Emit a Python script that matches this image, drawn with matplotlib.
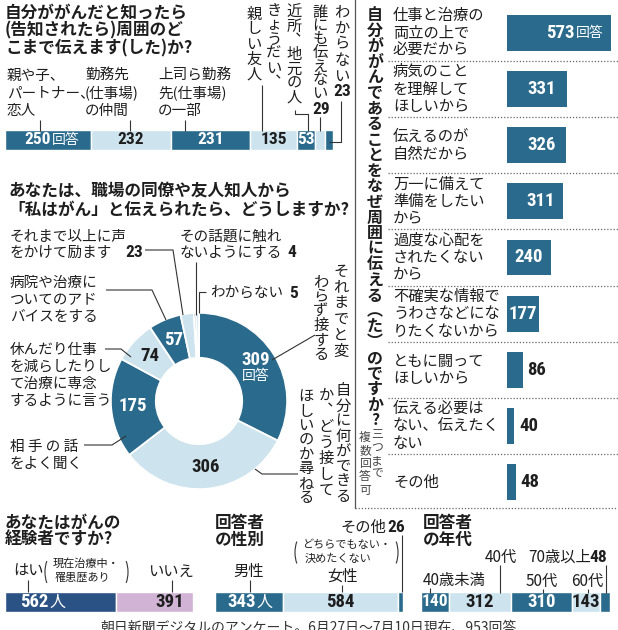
"""Recreate the Asahi cancer-disclosure survey infographic."""

import matplotlib

matplotlib.use("Agg")
import matplotlib.pyplot as plt
import matplotlib.transforms as mtransforms
from matplotlib.patches import Arc
import numpy as np

W, H = 618, 630
JP = ["Noto Sans CJK JP", "DejaVu Sans"]
NUM = ["Roboto Condensed", "Roboto", "DejaVu Sans"]
plt.rcParams["font.family"] = JP

DARK = "#2a6a8c"
LIGHT = "#cde3ee"
NAVY = "#2b5284"
LAVENDER = "#d0b3d5"
INK = "#1e1e1e"
LINE = "#333333"

TOTAL = 953

# --- data -------------------------------------------------------------
reach_labels = [
    "親や子、\nパートナー、\n恋人",
    "勤務先\n(仕事場)\nの仲間",
    "上司ら勤務\n先(仕事場)\nの一部",
    "きょうだい、\n親しい友人",
    "近所、地元の人",
    "誰にも伝えない",
    "わからない",
]
reach_counts = [250, 232, 231, 135, 53, 29, 23]

reaction_labels = [
    "それまでと変\nわらず接する",
    "自分に何ができる\nか、どう接して\nほしいのか尋ねる",
    "相 手 の 話\nをよく聞く",
    "休んだり仕事\nを減らしたりし\nて治療に専念\nするように言う",
    "病院や治療に\nついてのアド\nバイスをする",
    "それまで以上に声\nをかけて励ます",
    "その話題に触れ\nないようにする",
    "わからない",
]
reaction_counts = [309, 306, 175, 74, 57, 23, 4, 5]

reason_labels = [
    "仕事と治療の\n両立の上で\n必要だから",
    "病気のこと\nを理解して\nほしいから",
    "伝えるのが\n自然だから",
    "万一に備えて\n準備をしたい\nから",
    "過度な心配を\nされたくない\nから",
    "不確実な情報で\nうわさなどにな\nりたくないから",
    "ともに闘って\nほしいから",
    "伝える必要は\nない、伝えたく\nない",
    "その他",
]
reason_counts = [573, 331, 326, 311, 240, 177, 86, 40, 48]

experience_labels = ["はい", "いいえ"]
experience_counts = [562, 391]
gender_labels = ["男性", "女性", "その他"]
gender_counts = [343, 584, 26]
age_labels = ["40歳未満", "40代", "50代", "60代", "70歳以上"]
age_counts = [140, 312, 310, 143, 48]

# --- figure -----------------------------------------------------------
fig = plt.figure(figsize=(W / 100, H / 100), dpi=100)
ov = fig.add_axes([0, 0, 1, 1])
ov.set_xlim(0, W)
ov.set_ylim(H, 0)
ov.axis("off")
ov.set_zorder(10)

VERT = {"、": "︑", "(": "︵", ")": "︶"}


def px_axes(x0, y0, x1, y1):
    ax = fig.add_axes([x0 / W, 1 - y1 / H, (x1 - x0) / W, (y1 - y0) / H])
    return ax


def shifted(ax, dx=0, dy=0):
    return ax.transData + mtransforms.ScaledTranslation(dx / 100, -dy / 100, fig.dpi_scale_trans)


def rows(x, y, text, step=16.8, **kw):
    for j, line in enumerate(text.split("\n")):
        ov.text(x, y + j * step, line, va="center", ha="left", **kw)


def vtext(x, y, s, step, **kw):
    for i, ch in enumerate(s):
        ov.text(x, y + i * step, VERT.get(ch, ch), ha="center", va="center", **kw)


def leader(*pts):
    xs, ys = zip(*pts)
    ov.plot(xs, ys, color=LINE, lw=0.8, solid_capstyle="butt")


def paren(x_left, x_right, yc, h):
    ov.add_patch(Arc((x_left + 7, yc), 14, h, theta1=115, theta2=245, color=LINE, lw=0.8))
    ov.add_patch(Arc((x_right - 7, yc), 14, h, theta1=-65, theta2=65, color=LINE, lw=0.8))


def stack_bar(box, counts, colors):
    ax = px_axes(*box)
    counts = np.array(counts)
    left = np.concatenate([[0], np.cumsum(counts)[:-1]])
    ax.barh(0, counts, left=left, height=1, color=colors, edgecolor="white", linewidth=1)
    ax.set_xlim(0, counts.sum())
    ax.set_ylim(-0.5, 0.5)
    ax.axis("off")
    return ax, left, left + counts / 2


def num(ax, x, y, s, size, color, ha="center", dx=0, dy=0):
    ax.text(x, y, s, transform=shifted(ax, dx, dy), ha=ha, va="center",
            family=NUM, fontweight="bold", fontsize=size, color=color)


def onum(x, y, s, size=12.5, ha="left"):
    ov.text(x, y, s, family=NUM, fontweight="bold", fontsize=size, ha=ha, va="center", color=INK)


# --- top-left: how far would you tell --------------------------------
for j, line in enumerate(["自分ががんだと知ったら", "(告知されたら)周囲のど", "こまで伝えます(した)か?"]):
    ov.text(5, 12.5 + j * 18, line, fontsize=12, fontweight="bold", va="center", color=INK)

for lab, x, lx in zip(reach_labels[:3], [7, 85, 158], [40, 130, 185]):
    rows(x, 76, lab, step=17.5, fontsize=10.5, color=INK)
    leader((lx, 120), (lx, 131))

cols = reach_labels[3].split("\n")
vtext(274, 10, cols[0], 14.5, fontsize=11, color=INK)
vtext(254, 14, cols[1], 15, fontsize=11, color=INK)
vtext(294, 12, reach_labels[4], 14.2, fontsize=11, color=INK)
vtext(320, 12, reach_labels[5], 13.5, fontsize=11, color=INK)
vtext(342, 12, reach_labels[6], 16, fontsize=11, color=INK)
onum(321, 109, str(reach_counts[5]), ha="center")
onum(342, 92, str(reach_counts[6]), ha="center")
leader((262, 85), (262, 131))
leader((295, 110), (295, 114), (308, 114), (308, 131))
leader((320, 117), (320, 131))
leader((341, 101), (341, 142), (329, 142))

top_colors = [DARK, LIGHT, DARK, LIGHT, DARK, LIGHT, DARK]
ax_t, _, top_mid = stack_bar((5, 130, 333, 150), reach_counts, top_colors)
num(ax_t, top_mid[0], 0, str(reach_counts[0]), 12.5, "white", ha="right", dx=3)
ax_t.text(top_mid[0], 0, "回答", transform=shifted(ax_t, 4, 0), ha="left", va="center",
          fontsize=10, color="white")
for k, col in zip(range(1, 5), [INK, "white", INK, "white"]):
    num(ax_t, top_mid[k], 0, str(reach_counts[k]), 12.5, col)

# --- donut: how would you react ---------------------------------------
for j, line in enumerate(["あなたは、職場の同僚や友人知人から", "「私はがん」と伝えられたら、どうしますか?"]):
    ov.text(8, 190.5 + j * 19.5, line, fontsize=12, fontweight="bold", va="center", color=INK)

ax_p = px_axes(110, 312, 288, 490)
pie_colors = [DARK, LIGHT, DARK, LIGHT, DARK, LIGHT, DARK, LIGHT]
ax_p.pie(reaction_counts, colors=pie_colors, startangle=90, counterclock=False, radius=1,
         wedgeprops=dict(width=0.51, edgecolor="white", linewidth=1.3))
ax_p.set_xlim(-1.01, 1.01)
ax_p.set_ylim(-1.01, 1.01)
cnt = np.array(reaction_counts)
cum = np.concatenate([[0], np.cumsum(cnt)[:-1]])
mid = np.deg2rad(90 - 360 * (cum + cnt / 2) / TOTAL)
rr = 0.755
slice_colors = ["white", INK, "white", INK, "white"]
for k in range(5):
    x, y = rr * np.cos(mid[k]), rr * np.sin(mid[k])
    dy = -6 if k == 0 else 0
    num(ax_p, x, y, str(reaction_counts[k]), 13.5, slice_colors[k], dy=dy)
ax_p.text(rr * np.cos(mid[0]), rr * np.sin(mid[0]), "回答", transform=shifted(ax_p, 0, 10),
          ha="center", va="center", fontsize=10, color="white")

# vertical labels on the right of the donut
c0 = reaction_labels[0].split("\n")
vtext(341, 271, c0[0], 16, fontsize=11, color=INK)
vtext(321, 282, c0[1], 14.5, fontsize=11, color=INK)
c1 = reaction_labels[1].split("\n")
vtext(343, 391, c1[0], 15, fontsize=11, color=INK)
vtext(326, 395, c1[1], 15.8, fontsize=11, color=INK)
vtext(306, 397, c1[2], 14.4, fontsize=11, color=INK)
leader((272, 360), (315, 335))
leader((255, 469), (262, 474), (298, 474))

# horizontal labels on the left / top
rows(10, 447, reaction_labels[2], fontsize=10.5, color=INK)
leader((84, 445), (112, 445), (126, 436))
rows(10, 350, reaction_labels[3], fontsize=10.5, color=INK)
leader((105, 349), (121, 349), (131, 357))
rows(10, 283, reaction_labels[4], fontsize=10.5, color=INK)
leader((106, 290), (152, 290), (166, 320))
rows(10, 237, reaction_labels[5], step=15.8, fontsize=10.5, color=INK)
onum(125, 252.8, str(reaction_counts[5]))
leader((145, 250), (173, 250), (183, 315))
rows(180, 237, reaction_labels[6], step=15.8, fontsize=10.5, color=INK)
onum(287, 252.8, str(reaction_counts[6]))
leader((196, 262), (196, 315))
rows(210, 293, reaction_labels[7], fontsize=10.5, color=INK)
onum(289, 293, str(reaction_counts[7]))
leader((206, 292), (199, 292), (199, 313))

# --- right: why tell ---------------------------------------------------
ov.plot([355, 355], [0, 508], color="#555555", lw=0.9)
ov.plot([355, 618], [508, 508], color="#666666", lw=0.9, ls=(0, (1, 1.5)))
vtext(375, 14.8, "自分ががんであることをなぜ周囲に伝える(た)のですか?", 15.6,
      fontsize=11.5, fontweight="bold", color=INK)
vtext(377, 434, "三つまで", 13.3, fontsize=8.5, color="#444444")
vtext(365, 437, "複数回答可", 13.3, fontsize=8.5, color="#444444")

upp = 573 / 104
ax_r = px_axes(388, 5, 618, 510)
ax_r.barh(range(len(reason_counts)), reason_counts, height=0.64, color=DARK)
ax_r.set_xlim(-119 * upp, 111 * upp)
ax_r.set_ylim(len(reason_counts) - 0.5, -0.5)
ax_r.axis("off")
for k in np.arange(0.5, len(reason_counts) - 1, 1.0):
    ax_r.axhline(k, color="#666666", lw=0.9, ls=(0, (1, 1.5)))
for i, (lab, c) in enumerate(zip(reason_labels, reason_counts)):
    parts = lab.split("\n")
    n = len(parts)
    for j, line in enumerate(parts):
        ax_r.text(-114 * upp, i, line, transform=shifted(ax_r, 0, (j - (n - 1) / 2) * 17.5),
                  ha="left", va="center", fontsize=11, color=INK)
    if i == 0:
        num(ax_r, c, i, str(c), 13.5, "white", ha="right", dx=-36)
        ax_r.text(c, i, "回答", transform=shifted(ax_r, -35, 0), ha="left", va="center",
                  fontsize=10, color="white")
    elif c >= 300:
        num(ax_r, c / 2, i, str(c), 13.5, "white", dx=5)
    elif c >= 150:
        num(ax_r, c / 2, i, str(c), 13.5, "white")
    else:
        num(ax_r, c, i, str(c), 13.5, INK, ha="left", dx=5)

# --- bottom: respondents -----------------------------------------------
for x, lines in [(5, ["あなたはがんの", "経験者ですか?"]), (215, ["回答者", "の性別"]),
                 (423, ["回答者", "の年代"])]:
    for j, line in enumerate(lines):
        ov.text(x, 523 + j * 17, line, fontsize=12, fontweight="bold", va="center", color=INK)

# experience
ov.text(13, 571, experience_labels[0], fontsize=11, va="center", color=INK)
ov.text(148, 571, experience_labels[1], fontsize=11, va="center", color=INK)
paren(45, 128, 572, 32)
ov.text(53, 564, "現在治療中・", fontsize=8, va="center", color=INK)
ov.text(55, 578, "罹患歴あり", fontsize=8, va="center", color=INK)
leader((28, 580), (28, 592))
leader((172, 580), (172, 592))
ax_e, e_left, e_mid = stack_bar((5, 592, 193, 612), experience_counts, [NAVY, LAVENDER])
num(ax_e, 0, 0, str(experience_counts[0]), 13.5, "white", ha="left", dx=15)
ax_e.text(0, 0, "人", transform=shifted(ax_e, 44, 0), ha="left", va="center",
          fontsize=11.5, color="white")
num(ax_e, TOTAL, 0, str(experience_counts[1]), 13.5, INK, ha="right", dx=-9)

# gender
ov.text(233, 571, gender_labels[0], fontsize=11, va="center", color=INK)
ov.text(327, 576, gender_labels[1], fontsize=11, va="center", color=INK)
ov.text(340, 527, gender_labels[2], fontsize=11, va="center", color=INK)
onum(387, 527, str(gender_counts[2]))
paren(295, 398, 552.5, 32)
ov.text(302, 545, "どちらでもない・", fontsize=8, va="center", color=INK)
ov.text(305, 559, "決めたくない", fontsize=8, va="center", color=INK)
leader((250, 580), (250, 592))
leader((342, 585), (342, 592))
leader((402, 535), (402, 592))
ax_g, g_left, g_mid = stack_bar((215, 592, 403, 612), gender_counts, [DARK, LIGHT, DARK])
num(ax_g, 0, 0, str(gender_counts[0]), 13.5, "white", ha="left", dx=12)
ax_g.text(0, 0, "人", transform=shifted(ax_g, 41, 0), ha="left", va="center",
          fontsize=11.5, color="white")
num(ax_g, g_mid[1], 0, str(gender_counts[1]), 13.5, INK)

# age
age_pos = [(423, 581), (485, 557), (526, 581), (571, 581), (528, 557)]
for lab, (x, y) in zip(age_labels, age_pos):
    ov.text(x, y, lab, fontsize=11, va="center", color=INK)
onum(589, 557, str(age_counts[4]))
leader((430, 588), (430, 593))
leader((500, 565), (500, 593))
leader((543, 589), (543, 593))
leader((588, 589), (588, 593))
leader((606, 565), (606, 593))
ax_a, a_left, a_mid = stack_bar((421, 592, 610, 612), age_counts, [DARK, LIGHT, DARK, LIGHT, DARK])
for k, col in enumerate(["white", INK, "white", INK]):
    num(ax_a, a_mid[k], 0, str(age_counts[k]), 12.5 if k == 0 else 13.5, col)

ov.text(100, 621, "朝日新聞デジタルのアンケート。6月27日～7月10日現在、953回答",
        fontsize=10, va="top", color="#333333")

fig.savefig("out.png", dpi=100)
